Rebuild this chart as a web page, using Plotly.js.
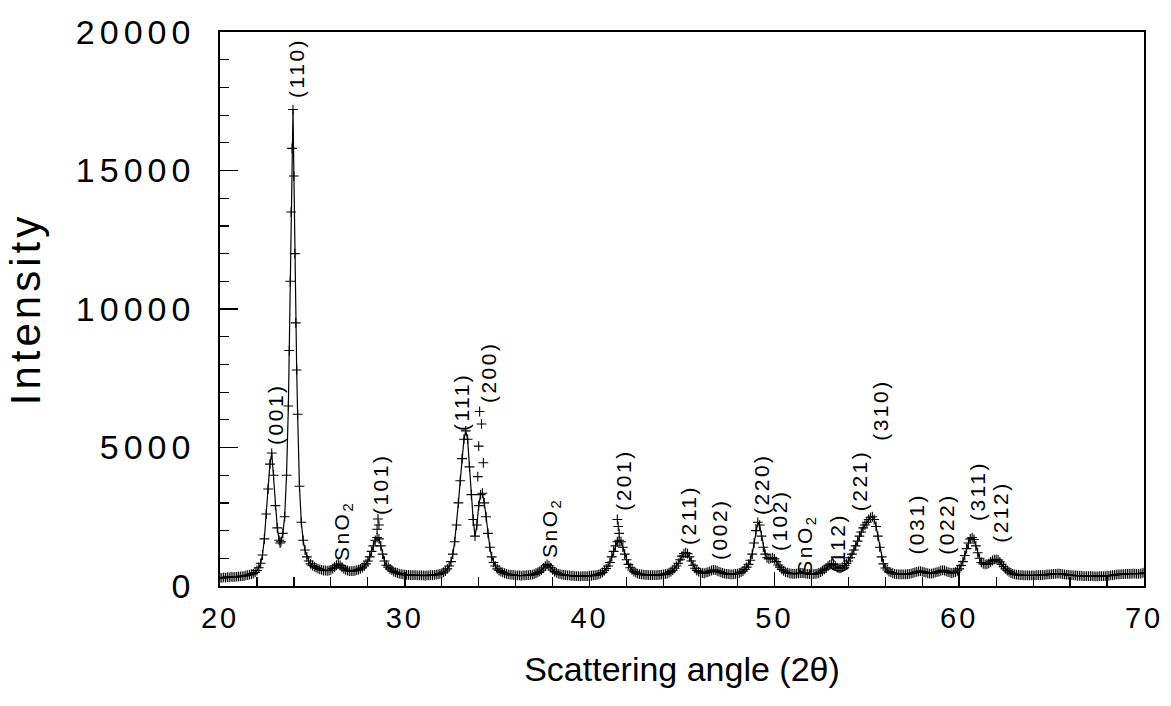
<!DOCTYPE html>
<html>
<head>
<meta charset="utf-8">
<script src="https://cdn.plot.ly/plotly-3.0.1.min.js"></script>
<style>
  html, body { margin: 0; padding: 0; background: #fff; }
  #chart { width: 1171px; height: 706px; }
  .ytick text { letter-spacing: 5px; }
  .xtick text { letter-spacing: 3px; }
  .ytitle { letter-spacing: 4px; }
  .annotation-text { letter-spacing: 2.5px; }
</style>
</head>
<body>
<div id="chart"></div>
<script>
// Scattering angle (2θ) of each observed point
const angle = [
  20.0,20.1,20.2,20.3,20.4,20.5,20.6,20.7,20.8,20.9,
  21.0,21.1,21.2,21.3,21.4,21.5,21.6,21.7,21.8,21.9,
  22.0,22.1,22.2,22.3,22.4,22.5,22.6,22.7,22.8,22.9,
  23.0,23.1,23.2,23.25,23.3,23.4,23.5,23.6,23.7,23.75,23.8,23.85,23.9,23.95,
  24.0,24.05,24.1,24.15,24.2,24.3,24.4,24.5,24.6,24.7,24.8,24.9,
  25.0,25.1,25.2,25.3,25.4,25.5,25.6,25.7,25.8,25.9,
  26.0,26.1,26.2,26.3,26.4,26.5,26.6,26.7,26.8,26.9,
  27.0,27.1,27.2,27.3,27.4,27.5,27.6,27.7,27.8,27.9,
  28.0,28.1,28.2,28.3,28.4,28.5,28.6,28.7,28.8,28.9,
  29.0,29.1,29.2,29.3,29.4,29.5,29.6,29.7,29.8,29.9,
  30.0,30.1,30.2,30.3,30.4,30.5,30.6,30.7,30.8,30.9,
  31.0,31.1,31.2,31.3,31.4,31.5,31.6,31.7,31.8,31.9,
  32.0,32.1,32.2,32.3,32.4,32.5,32.6,32.7,32.8,32.9,
  33.0,33.1,33.2,33.3,33.4,33.5,33.6,33.7,33.8,33.9,
  34.0,34.1,34.2,34.3,34.4,34.5,34.6,34.7,34.8,34.9,
  35.0,35.1,35.2,35.3,35.4,35.5,35.6,35.7,35.8,35.9,
  36.0,36.1,36.2,36.3,36.4,36.5,36.6,36.7,36.8,36.9,
  37.0,37.1,37.2,37.3,37.4,37.5,37.6,37.7,37.8,37.9,
  38.0,38.1,38.2,38.3,38.4,38.5,38.6,38.7,38.8,38.9,
  39.0,39.1,39.2,39.3,39.4,39.5,39.6,39.7,39.8,39.9,
  40.0,40.1,40.2,40.3,40.4,40.5,40.6,40.7,40.8,40.9,
  41.0,41.1,41.2,41.3,41.4,41.5,41.6,41.7,41.8,41.9,
  42.0,42.1,42.2,42.3,42.4,42.5,42.6,42.7,42.8,42.9,
  43.0,43.1,43.2,43.3,43.4,43.5,43.6,43.7,43.8,43.9,
  44.0,44.1,44.2,44.3,44.4,44.5,44.6,44.7,44.8,44.9,
  45.0,45.1,45.2,45.3,45.4,45.5,45.6,45.7,45.8,45.9,
  46.0,46.1,46.2,46.3,46.4,46.5,46.6,46.7,46.8,46.9,
  47.0,47.1,47.2,47.3,47.4,47.5,47.6,47.7,47.8,47.9,
  48.0,48.1,48.2,48.3,48.4,48.5,48.6,48.7,48.8,48.9,
  49.0,49.1,49.2,49.3,49.4,49.5,49.6,49.7,49.8,49.9,
  50.0,50.1,50.2,50.3,50.4,50.5,50.6,50.7,50.8,50.9,
  51.0,51.1,51.2,51.3,51.4,51.5,51.6,51.7,51.8,51.9,
  52.0,52.1,52.2,52.3,52.4,52.5,52.6,52.7,52.8,52.9,
  53.0,53.1,53.2,53.3,53.4,53.5,53.6,53.7,53.8,53.9,
  54.0,54.1,54.2,54.3,54.4,54.5,54.6,54.7,54.8,54.9,
  55.0,55.1,55.2,55.3,55.4,55.5,55.6,55.7,55.8,55.9,
  56.0,56.1,56.2,56.3,56.4,56.5,56.6,56.7,56.8,56.9,
  57.0,57.1,57.2,57.3,57.4,57.5,57.6,57.7,57.8,57.9,
  58.0,58.1,58.2,58.3,58.4,58.5,58.6,58.7,58.8,58.9,
  59.0,59.1,59.2,59.3,59.4,59.5,59.6,59.7,59.8,59.9,
  60.0,60.1,60.2,60.3,60.4,60.5,60.6,60.7,60.8,60.9,
  61.0,61.1,61.2,61.3,61.4,61.5,61.6,61.7,61.8,61.9,
  62.0,62.1,62.2,62.3,62.4,62.5,62.6,62.7,62.8,62.9,
  63.0,63.1,63.2,63.3,63.4,63.5,63.6,63.7,63.8,63.9,
  64.0,64.1,64.2,64.3,64.4,64.5,64.6,64.7,64.8,64.9,
  65.0,65.1,65.2,65.3,65.4,65.5,65.6,65.7,65.8,65.9,
  66.0,66.1,66.2,66.3,66.4,66.5,66.6,66.7,66.8,66.9,
  67.0,67.1,67.2,67.3,67.4,67.5,67.6,67.7,67.8,67.9,
  68.0,68.1,68.2,68.3,68.4,68.5,68.6,68.7,68.8,68.9,
  69.0,69.1,69.2,69.3,69.4,69.5,69.6,69.7,69.8,69.9,
  70.0
];
// Intensity at each angle
const intensity = [
  300,290,310,300,320,310,330,320,330,340,
  340,350,360,360,380,390,410,430,450,490,
  560,660,820,1120,1700,2600,3500,4400,4800,4000,
  2900,2100,1650,1550,1600,1900,2500,4000,6500,8500,11000,13500,15800,17200,
  14800,12000,9500,7800,6200,3600,2300,1650,1300,1050,900,800,
  740,700,660,630,600,580,560,560,550,560,
  580,630,680,750,790,740,680,620,580,560,
  540,540,540,550,570,590,620,660,720,800,
  900,1050,1250,1450,1650,1750,1700,1450,1150,900,
  750,680,620,570,520,490,470,450,430,420,
  410,400,400,390,390,390,390,380,380,380,
  380,370,380,380,390,390,400,410,420,440,
  460,500,540,620,720,880,1150,1600,2200,3000,
  3800,4600,5300,5600,5300,4300,3300,2400,1800,2200,
  2900,3300,3350,3000,2500,1900,1400,1050,850,720,
  620,560,520,490,460,440,420,410,400,390,
  380,380,380,370,380,380,390,390,400,410,
  430,460,490,530,580,650,720,780,730,660,
  580,520,480,450,430,410,400,390,380,380,
  370,370,360,360,360,350,360,360,360,360,
  370,370,380,390,400,420,450,490,550,630,
  720,850,1050,1250,1450,1600,1650,1600,1400,1150,
  950,780,660,580,520,480,450,430,420,410,
  400,400,390,390,390,390,390,400,400,410,
  420,430,450,480,520,570,640,720,820,950,
  1080,1170,1200,1170,1050,900,750,640,560,520,
  480,470,460,480,500,530,560,580,570,550,
  520,490,470,450,440,430,420,420,430,440,
  450,470,500,540,600,680,780,930,1150,1550,
  2000,2300,2200,1800,1400,1150,1020,980,1000,1020,
  980,880,760,680,600,550,500,480,460,450,
  440,440,450,460,470,470,460,450,440,430,
  430,430,440,450,470,500,550,600,650,720,
  760,800,780,720,660,640,640,680,740,810,
  900,1020,1150,1300,1450,1620,1800,1950,2100,2200,
  2300,2400,2480,2500,2400,2150,1800,1400,1050,800,
  650,580,520,490,460,440,430,420,420,420,
  420,420,430,440,450,470,490,510,530,540,
  520,500,480,460,450,450,460,480,500,520,
  550,570,560,530,500,480,470,480,500,550,
  620,740,880,1100,1350,1550,1700,1750,1680,1450,
  1200,1000,850,800,780,790,820,870,920,950,
  960,940,870,780,700,620,560,510,470,440,
  420,410,400,390,390,380,380,380,380,380,
  380,380,390,390,390,390,400,410,420,420,
  430,440,440,450,450,440,430,420,410,400,
  390,390,380,380,370,370,370,360,360,360,
  360,360,360,350,350,350,360,360,360,360,
  370,370,380,390,400,410,420,420,430,430,
  440,440,440,440,450,450,440,440,450,460,
  480
];
// Observed points that lie above the fitted curve
const extraAngle = [28.5, 28.55, 28.6, 33.95, 34.0, 34.05, 34.15, 34.25, 41.5, 41.55, 41.6];
const extraIntensity = [2050, 2420, 2200, 3950, 5050, 6300, 5850, 4450, 2400, 2150, 1900];

// Reflection labels
const peakLabels = ['(001)','(110)','SnO<sub>2</sub>','(101)','(111)','(200)','SnO<sub>2</sub>','(201)','(211)','(002)','(220)','(102)','SnO<sub>2</sub>','(112)','(221)','(310)','(031)','(022)','(311)','(212)'];
const labelAngle = [23.03, 24.1, 26.66, 28.66, 33.04, 34.5, 37.91, 41.86, 45.38, 47.06, 49.27, 50.25, 51.7, 53.45, 54.6, 55.7, 57.7, 59.33, 60.96, 62.2];
const labelBase = [5020, 17540, 830, 2490, 5520, 6530, 940, 2640, 1410, 870, 2490, 1190, 330, 400, 2640, 5160, 1050, 1050, 2270, 1480];

const xTicks = [20, 30, 40, 50, 60, 70];
const yTicks = [0, 5000, 10000, 15000, 20000];

const FONT = 'Liberation Sans, Arial, Helvetica, sans-serif';

const traces = [
  {
    x: angle, y: intensity, type: 'scatter', mode: 'lines+markers',
    line: {color: '#000', width: 1.2},
    marker: {symbol: 'cross-thin-open', size: 7, line: {color: '#000', width: 1.1}, color: '#000'},
    hoverinfo: 'x+y'
  },
  {
    x: extraAngle, y: extraIntensity, type: 'scatter', mode: 'markers',
    marker: {symbol: 'cross-thin-open', size: 7, line: {color: '#000', width: 1.1}, color: '#000'},
    hoverinfo: 'x+y'
  }
];

const annotations = peakLabels.map((t, i) => ({
  x: labelAngle[i], y: labelBase[i], xref: 'x', yref: 'y',
  text: t, showarrow: false, textangle: -90,
  xanchor: 'center', yanchor: 'bottom',
  font: {family: FONT, size: 21, color: '#000'}
}));

const layout = {
  width: 1171, height: 706,
  margin: {l: 220, r: 27, t: 32, b: 120},
  paper_bgcolor: '#fff', plot_bgcolor: '#fff',
  showlegend: false,
  font: {family: FONT, color: '#000'},
  xaxis: {
    range: [20, 70], tickmode: 'array', tickvals: xTicks,
    ticks: 'inside', ticklen: 14, tickwidth: 1.5, tickcolor: '#000',
    minor: {dtick: 2, tick0: 20, ticks: 'inside', ticklen: 9, tickwidth: 1.2, tickcolor: '#000', showgrid: false},
    showline: true, linecolor: '#000', linewidth: 1.8, mirror: true,
    showgrid: false, zeroline: false,
    tickfont: {family: FONT, size: 29, color: '#000'},
    ticklabelstandoff: 5,
    title: {text: 'Scattering angle (2θ)', font: {family: FONT, size: 34, color: '#000'}, standoff: 25}
  },
  yaxis: {
    range: [0, 20000], tickmode: 'array', tickvals: yTicks, tickformat: 'd',
    ticks: 'inside', ticklen: 18, tickwidth: 1.5, tickcolor: '#000',
    minor: {dtick: 1000, tick0: 0, ticks: 'inside', ticklen: 9, tickwidth: 1.2, tickcolor: '#000', showgrid: false},
    showline: true, linecolor: '#000', linewidth: 1.8, mirror: true,
    showgrid: false, zeroline: false,
    tickfont: {family: FONT, size: 34, color: '#000'},
    ticklabelstandoff: 16,
    title: {text: 'Intensity', font: {family: FONT, size: 42, color: '#000'}, standoff: 22}
  },
  annotations: annotations
};

Plotly.newPlot('chart', traces, layout, {displayModeBar: false, staticPlot: true});
</script>
</body>
</html>
